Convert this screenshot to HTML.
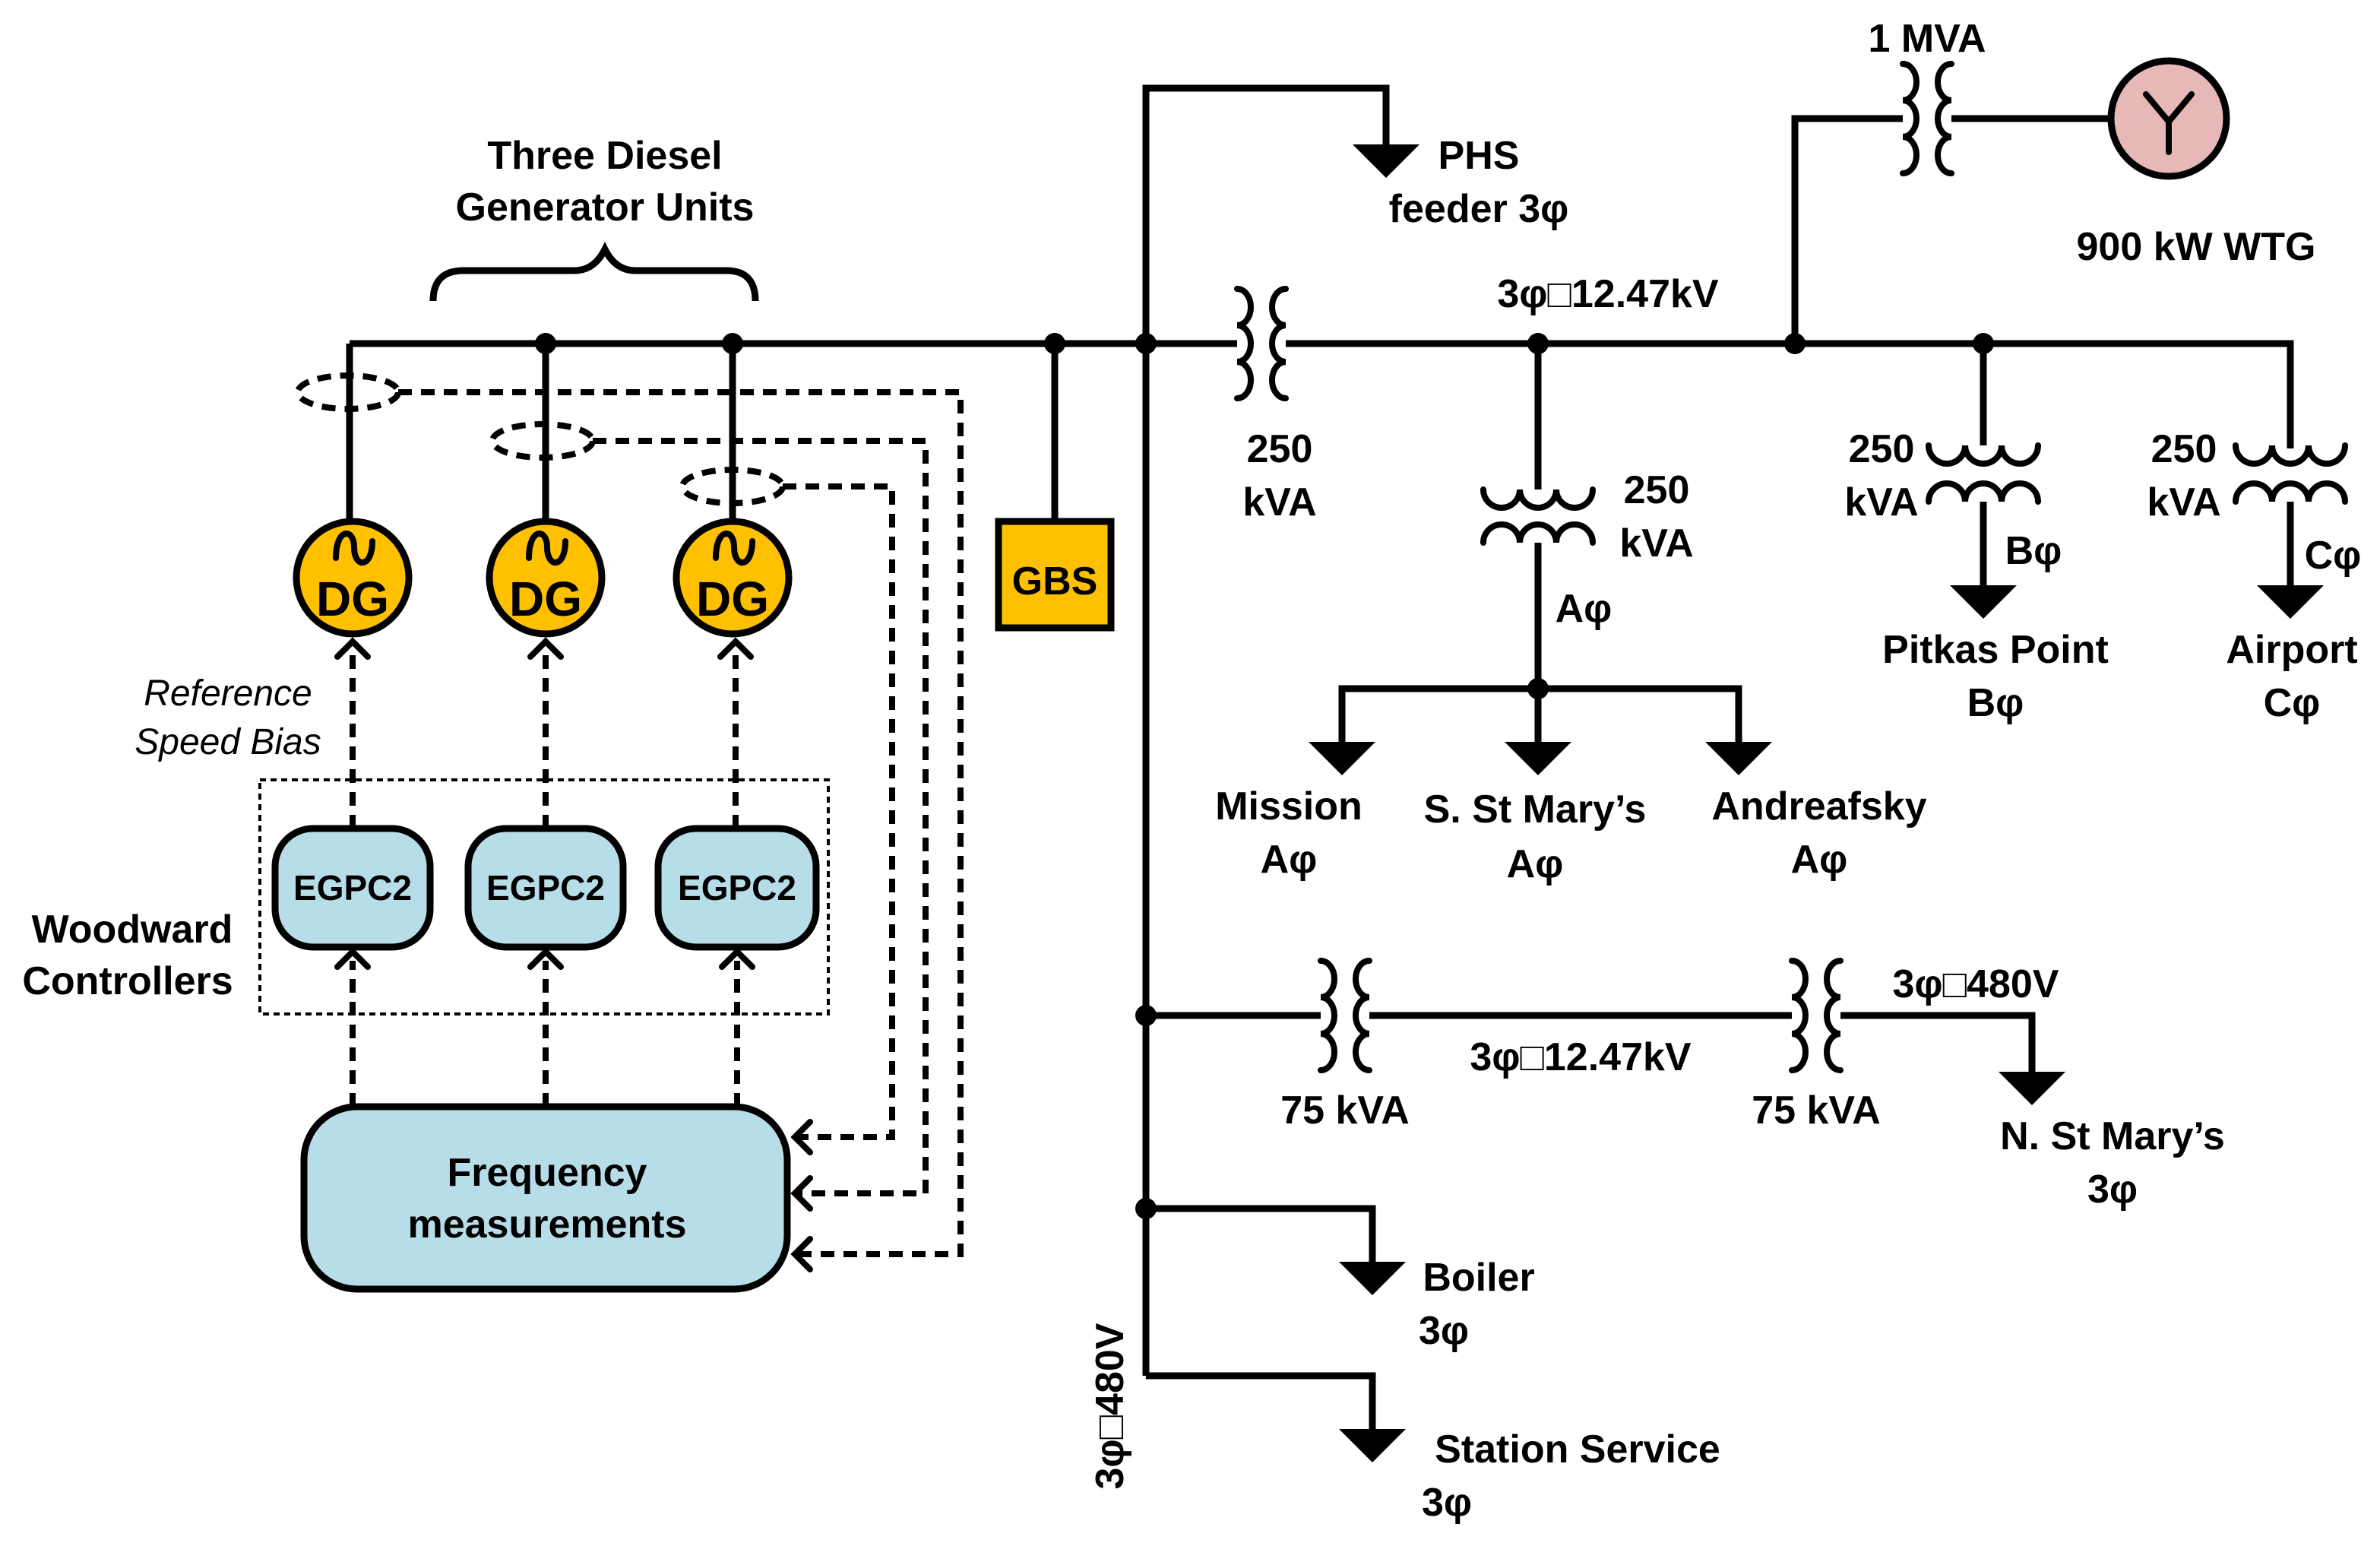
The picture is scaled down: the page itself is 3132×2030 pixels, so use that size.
<!DOCTYPE html>
<html><head><meta charset="utf-8"><style>
html,body{margin:0;padding:0;background:#fff;}
svg{display:block}
text{font-family:"Liberation Sans",Arial,sans-serif;font-weight:bold;font-size:26px;fill:#000;text-anchor:middle}
text.dg{font-size:32px}
text.eg{font-size:23px}
text.it{font-weight:normal;font-style:italic;font-size:24px}
.s{fill:none;stroke:#000;stroke-width:4.5}
.d{fill:none;stroke:#000;stroke-width:4;stroke-dasharray:9 6}
.c{fill:none;stroke:#000;stroke-width:4;stroke-linecap:round}
</style></head><body>
<svg width="3132" height="2030" viewBox="0 0 1566 1015" xmlns="http://www.w3.org/2000/svg">
<!-- top bus -->
<path class="s" d="M230 226 H814 M846 226 H1507 V295"/>
<path class="s" d="M230 226 V345 M359 226 V343 M482 226 V343"/>
<g fill="#000"><circle cx="359" cy="226" r="7"/><circle cx="482" cy="226" r="7"/><circle cx="694" cy="226" r="7"/><circle cx="754" cy="226" r="7"/><circle cx="1012" cy="226" r="7"/><circle cx="1181" cy="226" r="7"/><circle cx="1305" cy="226" r="7"/><circle cx="754" cy="668" r="7"/><circle cx="754" cy="795" r="7"/><circle cx="1012" cy="453" r="7"/></g>
<!-- main vertical -->
<path class="s" d="M754 905 V58 H912 V96"/>
<polygon points="890,95 934,95 912,117"/>
<text x="973" y="111">PHS</text><text x="973" y="146">feeder 3φ</text>
<!-- 250kVA bus transformer -->
<path class="c" d="M814 190 a9 12 0 0 1 0 24 a9 12 0 0 1 0 24 a9 12 0 0 1 0 24 M846 190 a9 12 0 0 0 0 24 a9 12 0 0 0 0 24 a9 12 0 0 0 0 24"/>
<text x="842" y="304">250</text><text x="842" y="339">kVA</text>
<!-- GBS -->
<path class="s" d="M694 226 V343"/>
<rect x="657" y="343" width="74" height="70" fill="#FFC000" stroke="#000" stroke-width="4.5"/>
<text x="694" y="391">GBS</text>
<!-- WTG -->
<path class="s" d="M1181 226 V78 H1252 M1284 78 H1390"/>
<path class="c" d="M1252 42 a9 12 0 0 1 0 24 a9 12 0 0 1 0 24 a9 12 0 0 1 0 24 M1284 42 a9 12 0 0 0 0 24 a9 12 0 0 0 0 24 a9 12 0 0 0 0 24"/>
<circle cx="1427" cy="78" r="38" fill="#E6B8B7" stroke="#000" stroke-width="4.5"/>
<path class="c" d="M1412 62 L1427 80 L1442 62 M1427 80 V100"/>
<text x="1268" y="34">1 MVA</text>
<text x="1445" y="171">900 kW WTG</text>
<text x="1058" y="202">3φ□12.47kV</text>
<!-- A phase -->
<path class="s" d="M1012 226 V322 M1012 357 V453 M883 488 V453 H1144 V488 M1012 453 V488"/>
<path class="c" d="M976 322 a12 12 0 0 0 24 0 a12 12 0 0 0 24 0 a12 12 0 0 0 24 0 M976 357 a12 12 0 0 1 24 0 a12 12 0 0 1 24 0 a12 12 0 0 1 24 0"/>
<polygon points="861,488 905,488 883,510"/><polygon points="990,488 1034,488 1012,510"/><polygon points="1122,488 1166,488 1144,510"/>
<text x="1090" y="331">250</text><text x="1090" y="366">kVA</text><text x="1042" y="409">Aφ</text>
<text x="848" y="539">Mission</text><text x="848" y="574">Aφ</text>
<text x="1010" y="541">S. St Mary’s</text><text x="1010" y="577">Aφ</text>
<text x="1197" y="539">Andreafsky</text><text x="1197" y="574">Aφ</text>
<!-- B phase -->
<path class="s" d="M1305 226 V293 M1305 330 V386"/>
<path class="c" d="M1269 293 a12 12 0 0 0 24 0 a12 12 0 0 0 24 0 a12 12 0 0 0 24 0 M1269 330 a12 12 0 0 1 24 0 a12 12 0 0 1 24 0 a12 12 0 0 1 24 0"/>
<polygon points="1283,385 1327,385 1305,407"/>
<text x="1238" y="304">250</text><text x="1238" y="339">kVA</text><text x="1338" y="371">Bφ</text>
<text x="1313" y="436">Pitkas Point</text><text x="1313" y="471">Bφ</text>
<!-- C phase -->
<path class="s" d="M1507 330 V386"/>
<path class="c" d="M1471 293 a12 12 0 0 0 24 0 a12 12 0 0 0 24 0 a12 12 0 0 0 24 0 M1471 330 a12 12 0 0 1 24 0 a12 12 0 0 1 24 0 a12 12 0 0 1 24 0"/>
<polygon points="1485,385 1529,385 1507,407"/>
<text x="1437" y="304">250</text><text x="1437" y="339">kVA</text><text x="1535" y="374">Cφ</text>
<text x="1508" y="436">Airport</text><text x="1508" y="471">Cφ</text>
<!-- lower 480V feeder -->
<path class="s" d="M754 668 H869 M901 668 H1179 M1211 668 H1337 V706"/>
<path class="c" d="M869 632 a9 12 0 0 1 0 24 a9 12 0 0 1 0 24 a9 12 0 0 1 0 24 M901 632 a9 12 0 0 0 0 24 a9 12 0 0 0 0 24 a9 12 0 0 0 0 24 M1179 632 a9 12 0 0 1 0 24 a9 12 0 0 1 0 24 a9 12 0 0 1 0 24 M1211 632 a9 12 0 0 0 0 24 a9 12 0 0 0 0 24 a9 12 0 0 0 0 24"/>
<polygon points="1315,705 1359,705 1337,727"/>
<text x="885" y="739">75 kVA</text><text x="1195" y="739">75 kVA</text>
<text x="1040" y="704">3φ□12.47kV</text><text x="1300" y="656">3φ□480V</text>
<text x="1390" y="756">N. St Mary’s</text><text x="1390" y="791">3φ</text>
<path class="s" d="M754 795 H903 V831 M754 905 H903 V941"/>
<polygon points="881,830 925,830 903,852"/><polygon points="881,940 925,940 903,962"/>
<text x="973" y="849">Boiler</text><text x="950" y="884">3φ</text>
<text x="1038" y="962">Station Service</text><text x="952" y="997">3φ</text>
<text transform="translate(739,925) rotate(-90)">3φ□480V</text>
<!-- left: brace -->
<path class="s" d="M285 198 Q285 178 305 178 H378 Q391 178 398 164 Q405 178 418 178 H478 Q497 178 497 198"/>
<text x="398" y="111">Three Diesel</text><text x="398" y="145">Generator Units</text>
<!-- dashed ellipses & feedback -->
<ellipse class="d" cx="229" cy="258" rx="33" ry="11"/>
<ellipse class="d" cx="357" cy="290" rx="33" ry="11"/>
<ellipse class="d" cx="482" cy="320" rx="33" ry="11"/>
<path class="d" d="M262 258 H632 V825 H522 M390 290 H609 V785 H522 M515 320 H587 V748 H522"/>
<path class="c" d="M533 815 L523 825 L533 835 M533 775 L523 785 L533 795 M533 738 L523 748 L533 758"/>
<!-- DG units -->
<g stroke="#000" stroke-width="4.5" fill="#FFC000"><circle cx="232" cy="380" r="37"/><circle cx="359" cy="380" r="37"/><circle cx="482" cy="380" r="37"/></g>
<path class="c" d="M221 367 c0 -20 12 -20 12 -7 c0 14 12 14 12 -4 M348 367 c0 -20 12 -20 12 -7 c0 14 12 14 12 -4 M471 367 c0 -20 12 -20 12 -7 c0 14 12 14 12 -4"/>
<text class="dg" x="232" y="405">DG</text><text class="dg" x="359" y="405">DG</text><text class="dg" x="482" y="405">DG</text>
<!-- controllers -->
<rect x="171" y="513" width="374" height="154" fill="none" stroke="#000" stroke-width="2" stroke-dasharray="4 3"/>
<g stroke="#000" stroke-width="4.5" fill="#B7DDE8"><rect x="181" y="545" width="102" height="78" rx="25"/><rect x="308" y="545" width="102" height="78" rx="25"/><rect x="433" y="545" width="104" height="78" rx="25"/></g>
<text class="eg" x="232" y="592">EGPC2</text><text class="eg" x="359" y="592">EGPC2</text><text class="eg" x="485" y="592">EGPC2</text>
<path class="d" d="M232 545 V426 M359 545 V426 M484 545 V426 M232 728 V632 M359 728 V632 M485 728 V632"/>
<path class="c" d="M222 432 L232 422 L242 432 M349 432 L359 422 L369 432 M474 432 L484 422 L494 432 M222 636 L232 626 L242 636 M349 636 L359 626 L369 636 M475 636 L485 626 L495 636"/>
<rect x="200" y="728" width="318" height="120" rx="35" fill="#B7DDE8" stroke="#000" stroke-width="4.5"/>
<text x="360" y="780">Frequency</text><text x="360" y="814">measurements</text>
<text class="it" x="150" y="464">Reference</text><text class="it" x="150" y="496">Speed Bias</text>
<text x="87" y="620">Woodward</text><text x="84" y="654">Controllers</text>
</svg>
</body></html>
